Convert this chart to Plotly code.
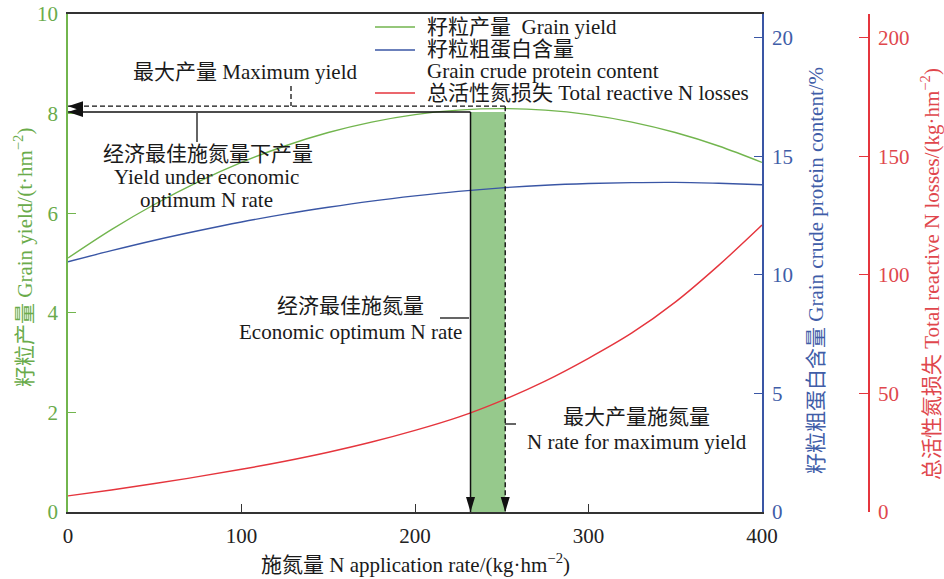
import plotly.graph_objects as go

# ---------------- data ----------------
n_rate = [0, 25, 50, 75, 100, 125, 150, 175, 200, 225, 250, 275, 300, 325, 350, 375, 400]
grain_yield = [5.10, 5.67, 6.18, 6.63, 7.02, 7.35, 7.62, 7.83, 7.98, 8.07, 8.10, 8.07, 7.98, 7.83, 7.62, 7.35, 7.02]
protein = [10.55, 11.02, 11.46, 11.86, 12.23, 12.56, 12.85, 13.11, 13.33, 13.52, 13.67, 13.78, 13.85, 13.89, 13.90, 13.86, 13.80]
n_losses = [6.8, 9.3, 12.0, 14.9, 18.0, 21.4, 25.2, 29.5, 34.4, 40.0, 47.0, 55.2, 64.8, 75.5, 88.5, 104.0, 121.0]

x_ticks = [0, 100, 200, 300, 400]
yield_ticks = [0, 2, 4, 6, 8, 10]
protein_ticks = [0, 5, 10, 15, 20]
loss_ticks = [0, 50, 100, 150, 200]

econ_opt_n = 232        # economic optimum N rate
max_yield_n = 252       # N rate for maximum yield
yield_at_econ = 8.03    # yield under economic optimum N rate
yield_max = 8.15        # maximum yield

series_names = ["籽粒产量\u00a0\u00a0Grain yield",
                "籽粒粗蛋白含量",
                "总活性氮损失 Total reactive N losses"]

# ---------------- style ----------------
FONT = "Liberation Serif, Noto Sans CJK SC, serif"
FS = 21
GREEN = "#72b54e"
GREEN_T = "#6aab4b"
BLUE = "#3a56a5"
BLUE_T = "#3f5da8"
RED = "#e5353d"
RED_T = "#e0474d"
DARK = "#333333"
BAR = "#96c98c"

W, H = 944, 579
ML, MR, MT, MB = 68, 10, 14, 67
PW = W - ML - MR
PH = H - MT - MB
X_END = 762
RED_AX = 869


def xp(px):
    return (px - ML) / PW


def yp(py):
    return (H - MB - py) / PH


fig = go.Figure()
fig.add_trace(go.Scatter(x=n_rate, y=grain_yield, mode="lines", line=dict(color=GREEN, width=1.4, shape="spline"),
                         name=series_names[0], yaxis="y", showlegend=False))
fig.add_trace(go.Scatter(x=n_rate, y=protein, mode="lines", line=dict(color=BLUE, width=1.4, shape="spline"),
                         name=series_names[1], yaxis="y2", showlegend=False))
fig.add_trace(go.Scatter(x=n_rate, y=n_losses, mode="lines", line=dict(color=RED, width=1.4, shape="spline"),
                         name=series_names[2], yaxis="y3", showlegend=False))

tickfont = lambda c: dict(family=FONT, size=FS, color=c)

fig.update_layout(
    width=W, height=H,
    margin=dict(l=ML, r=MR, t=MT, b=MB, autoexpand=False),
    paper_bgcolor="white", plot_bgcolor="white",
    showlegend=False,
    xaxis=dict(domain=[0, xp(X_END)], range=[0, 400], tickvals=x_ticks, ticks="inside", ticklen=8,
               tickwidth=1.3, tickcolor=DARK, showline=True, linecolor=DARK, linewidth=1.5, mirror=True,
               showgrid=False, zeroline=False, tickfont=tickfont("#222222"), ticklabelstandoff=4),
    yaxis=dict(range=[0, 10], tickvals=yield_ticks, ticks="inside", ticklen=8, tickwidth=1.3,
               tickcolor=GREEN, showline=True, linecolor=GREEN, linewidth=1.5, showgrid=False,
               zeroline=False, tickfont=tickfont(GREEN_T), ticklabelstandoff=4),
    yaxis2=dict(range=[0, 21], tickvals=protein_ticks, overlaying="y", side="right", anchor="x",
                ticks="inside", ticklen=8, tickwidth=1.3, tickcolor=BLUE, showline=True, linecolor=BLUE,
                linewidth=1.5, showgrid=False, zeroline=False, tickfont=tickfont(BLUE_T), ticklabelstandoff=4),
    yaxis3=dict(range=[0, 210], tickvals=loss_ticks, overlaying="y", side="right", anchor="free",
                position=xp(RED_AX), ticks="inside", ticklen=9, tickwidth=1.3, tickcolor=RED, showline=True,
                linecolor=RED, linewidth=1.5, showgrid=False, zeroline=False, tickfont=tickfont(RED_T),
                ticklabelstandoff=4),
)

shapes = []
# green band between the two N rates
shapes.append(dict(type="rect", xref="x", yref="y", x0=econ_opt_n, x1=max_yield_n, y0=0, y1=yield_at_econ,
                   fillcolor=BAR, line=dict(width=0), layer="below"))
# solid guide lines (economic optimum)
shapes.append(dict(type="line", xref="x", yref="y", x0=0, x1=econ_opt_n, y0=yield_at_econ, y1=yield_at_econ,
                   line=dict(color="#111111", width=1.5)))
shapes.append(dict(type="line", xref="x", yref="y", x0=econ_opt_n, x1=econ_opt_n, y0=yield_at_econ, y1=0,
                   line=dict(color="#111111", width=1.5)))
# dashed guide lines (maximum yield)
shapes.append(dict(type="line", xref="x", yref="y", x0=0, x1=max_yield_n, y0=yield_max, y1=yield_max,
                   line=dict(color="#111111", width=1.4, dash="5px,3px")))
shapes.append(dict(type="line", xref="x", yref="y", x0=max_yield_n, x1=max_yield_n, y0=yield_max, y1=0,
                   line=dict(color="#111111", width=1.4, dash="5px,3px")))
# arrow heads (pixel-sized, anchored on data points)
for ya in (yield_at_econ, yield_max):
    shapes.append(dict(type="path", xref="x", yref="y", xsizemode="pixel", ysizemode="pixel",
                       xanchor=0, yanchor=ya, path="M0,0 L15,5 L15,-5 Z",
                       fillcolor="#111111", line=dict(width=0)))
for xa in (econ_opt_n, max_yield_n):
    shapes.append(dict(type="path", xref="x", yref="y", xsizemode="pixel", ysizemode="pixel",
                       xanchor=xa, yanchor=0, path="M0,0 L-4.5,15 L4.5,15 Z",
                       fillcolor="#111111", line=dict(width=0)))

# leader lines for labels
shapes.append(dict(type="line", xref="paper", yref="paper", x0=xp(291), x1=xp(291), y0=yp(86), y1=yp(106),
                   line=dict(color="#111111", width=1.3, dash="5px,3px")))
shapes.append(dict(type="line", xref="paper", yref="paper", x0=xp(197), x1=xp(197), y0=yp(113), y1=yp(142),
                   line=dict(color="#111111", width=1.3)))
shapes.append(dict(type="line", xref="paper", yref="paper", x0=xp(440), x1=xp(469), y0=yp(318), y1=yp(318),
                   line=dict(color="#111111", width=1.3)))
shapes.append(dict(type="line", xref="paper", yref="paper", x0=xp(505), x1=xp(516), y0=yp(424), y1=yp(424),
                   line=dict(color="#111111", width=1.3)))

# manual legend lines
for col, py in ((GREEN, 27), (BLUE, 50), (RED, 93)):
    shapes.append(dict(type="line", xref="paper", yref="paper", x0=xp(375), x1=xp(415), y0=yp(py), y1=yp(py),
                       line=dict(color=col, width=1.4)))

fig.update_layout(shapes=shapes)

ann = []


def text(s, px, py, anchor="center", color="#1a1a1a", angle=0, size=FS):
    ann.append(dict(text=s, xref="paper", yref="paper", x=xp(px), y=yp(py), xanchor=anchor, yanchor="middle",
                    showarrow=False, textangle=angle, font=dict(family=FONT, size=size, color=color)))


# chart annotations
text("最大产量 Maximum yield", 245, 72)
text("经济最佳施氮量下产量", 208, 154)
text("Yield under economic", 206, 177)
text("optimum N rate", 206, 200)
text("经济最佳施氮量", 350, 306)
text("Economic optimum N rate", 350, 332)
text("最大产量施氮量", 636, 417)
text("N rate for maximum yield", 637, 442)

# legend texts
text(series_names[0], 425, 27, anchor="left")
text(series_names[1], 425, 49, anchor="left")
text("Grain crude protein content", 425, 71, anchor="left")
text(series_names[2], 425, 93, anchor="left")

# axis titles
text("施氮量 N application rate/(kg·hm<sup>−2</sup>)", 415, 563)
text("籽粒产量 Grain yield/(t·hm<sup>−2</sup>)", 23, 258, color=GREEN_T, angle=-90)
text("籽粒粗蛋白含量 Grain crude protein content/%", 816, 271, color=BLUE_T, angle=-90)
text("总活性氮损失 Total reactive N losses/(kg·hm<sup>−2</sup>)", 930, 274, color=RED_T, angle=-90)

fig.update_layout(annotations=ann)

fig.write_html("out.html", config={"displayModeBar": False},
               post_script="document.body.style.margin='0';document.body.style.padding='0';"
                           "document.body.style.overflow='hidden';")
